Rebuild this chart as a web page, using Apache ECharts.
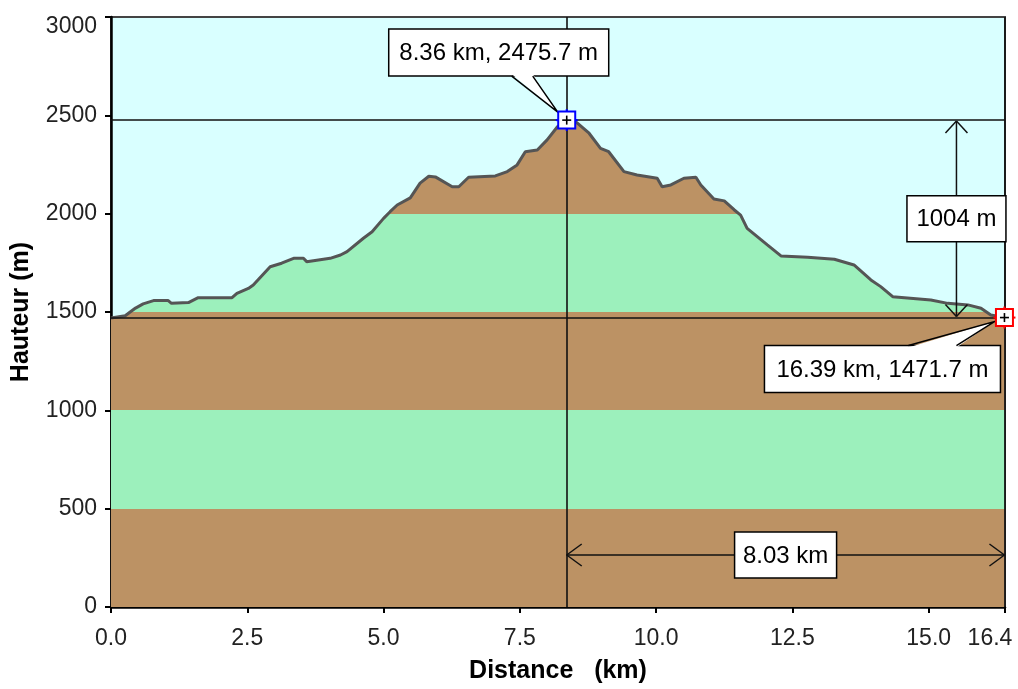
<!DOCTYPE html>
<html><head><meta charset="utf-8">
<script src="https://cdn.jsdelivr.net/npm/echarts@6/dist/echarts.min.js"></script>
<style>html,body{margin:0;padding:0;background:#fff}#c{width:1018px;height:689px}</style>
</head><body><div id="c"></div>
<script>
// ---- data ----
const distanceKm = [0.00,0.26,0.45,0.59,0.78,1.05,1.11,1.42,1.60,2.22,2.31,2.52,2.61,2.92,3.13,3.35,3.53,3.59,4.02,4.21,4.33,4.63,4.79,5.00,5.12,5.25,5.49,5.67,5.83,5.95,6.26,6.38,6.56,7.05,7.27,7.45,7.60,7.82,8.00,8.19,8.36,8.55,8.77,8.98,9.13,9.41,9.65,10.02,10.11,10.27,10.51,10.73,10.82,11.06,11.25,11.43,11.55,11.67,12.04,12.29,12.78,13.27,13.63,13.94,14.12,14.34,15.04,15.35,15.72,15.96,16.14,16.39];
const elevationM = [1470,1481,1520,1541,1558,1558,1544,1548,1573,1573,1595,1620,1637,1730,1748,1773,1773,1756,1773,1790,1807,1875,1908,1976,2010,2044,2080,2155,2190,2187,2137,2137,2185,2192,2214,2248,2315,2324,2375,2442,2475.7,2462,2409,2332,2315,2214,2197,2180,2137,2146,2180,2185,2146,2075,2065,2020,1993,1925,1841,1785,1778,1768,1739,1663,1629,1578,1561,1544,1536,1519,1485,1471.7];
const peakPoint = [8.36, 2475.7];
const endPoint = [16.39, 1471.7];
const bandEdges = [0, 500, 1000, 1500, 2000, 2500, 3000];
const bandColors = ['#BC9264', '#9CF0BC'];
const xAxisName = 'Distance   (km)';
const yAxisName = 'Hauteur (m)';
const xMax = 16.4, yMax = 3000;

const chart = echarts.init(document.getElementById('c'));
const profile = distanceKm.map((d, i) => [d, elevationM[i]]);
const pieces = bandEdges.slice(0, -1).map((lo, i) => {
  const p = { gte: lo, color: bandColors[i % 2] };
  if (i === bandEdges.length - 2) p.lte = bandEdges[i + 1]; else p.lt = bandEdges[i + 1];
  return p;
});
const LINE = '#111';
const TICKFONT = { fontFamily: 'Liberation Sans', fontSize: 23, color: '#222' };
chart.setOption({
  animation: false,
  grid: { left: 111, right: 13, top: 17, bottom: 82, containLabel: false, outerBoundsMode: 'none', show: true, backgroundColor: '#D9FFFF', borderColor: '#444', borderWidth: 2 },
  visualMap: { type: 'piecewise', show: false, dimension: 1, seriesIndex: 0, pieces: pieces },
  xAxis: {
    type: 'value', min: 0, max: xMax, interval: 2.5,
    name: xAxisName, nameLocation: 'middle', nameGap: 52,
    nameTextStyle: { fontFamily: 'Liberation Sans', fontSize: 25, fontWeight: 'bold', color: '#000' },
    axisLine: { lineStyle: { color: '#000', width: 2.5 } },
    axisTick: { show: true, length: 6, lineStyle: { color: '#000', width: 2 } },
    axisLabel: Object.assign({ margin: 20, showMaxLabel: true, showMinLabel: true,
      formatter: v => Math.abs(v - xMax) < 1e-9 ? '{m|' + v.toFixed(1) + '}' : v.toFixed(1),
      rich: { m: Object.assign({ padding: [0, 30, 0, 0] }, TICKFONT) } }, TICKFONT),
    splitLine: { show: false }
  },
  yAxis: {
    type: 'value', min: 0, max: yMax, interval: 500,
    name: yAxisName, nameLocation: 'middle', nameGap: 77, nameRotate: 90,
    nameTextStyle: { fontFamily: 'Liberation Sans', fontSize: 25, fontWeight: 'bold', color: '#000' },
    axisLine: { show: true, lineStyle: { color: '#000', width: 2.5 } },
    axisTick: { show: true, length: 6, lineStyle: { color: '#000', width: 2 } },
    axisLabel: Object.assign({ margin: 14,
      formatter: v => v === yMax ? '{t|' + v + '}' : String(v),
      rich: { t: Object.assign({ padding: [20, 0, 0, 0] }, TICKFONT) } }, TICKFONT),
    splitLine: { show: false }
  },
  series: [{
    type: 'line', data: profile, showSymbol: false, symbol: 'none', smooth: false,
    lineStyle: { color: '#555', width: 3 },
    areaStyle: { opacity: 1 },
    markLine: {
      silent: true, symbol: ['none', 'none'], label: { show: false },
      lineStyle: { color: LINE, width: 1.6, type: 'solid' },
      data: [
        { yAxis: peakPoint[1] }, { xAxis: peakPoint[0] },
        { yAxis: endPoint[1] }, { xAxis: endPoint[0] }
      ]
    }
  }]
});

// ---- annotations positioned through the chart's scales ----
const P = chart.convertToPixel({ gridIndex: 0 }, peakPoint);
const E = chart.convertToPixel({ gridIndex: 0 }, endPoint);
const O = chart.convertToPixel({ gridIndex: 0 }, [0, 0]);
const FONT = '24px "Liberation Sans", Arial, sans-serif';
const Z = 60;
const els = [];
function line(x1, y1, x2, y2, color, w) {
  els.push({ type: 'line', z: Z, shape: { x1, y1, x2, y2 }, style: { stroke: color || LINE, lineWidth: w || 1.5 } });
}
function marker(pt, color) {
  const [x, y] = pt;
  line(x - 11, y, x + 11, y, color, 2);
  line(x, y - 11, x, y + 11, color, 2);
  els.push({ type: 'rect', z: Z + 1, shape: { x: x - 8.5, y: y - 8.5, width: 17, height: 17 }, style: { fill: '#fff', stroke: color, lineWidth: 2 } });
  els.push({ type: 'line', z: Z + 2, shape: { x1: x - 4.5, y1: y, x2: x + 4.5, y2: y }, style: { stroke: '#000', lineWidth: 1.6 } });
  els.push({ type: 'line', z: Z + 2, shape: { x1: x, y1: y - 4.5, x2: x, y2: y + 4.5 }, style: { stroke: '#000', lineWidth: 1.6 } });
}
function callout(pt, box, b1, b2, tip, text) {
  const [x, y] = pt;
  els.push({ type: 'rect', z: Z, shape: { x: x + box.x, y: y + box.y, width: box.w, height: box.h }, style: { fill: '#fff', stroke: '#000', lineWidth: 1.5 } });
  const inward = b1[1] === box.y ? 2 : -2;
  els.push({ type: 'polygon', z: Z + 1, shape: { points: [[x + b1[0], y + b1[1] + inward], [x + b2[0], y + b2[1] + inward], [x + tip[0], y + tip[1]]] }, style: { fill: '#fff', stroke: null } });
  els.push({ type: 'polyline', z: Z + 1, shape: { points: [[x + b1[0], y + b1[1]], [x + tip[0], y + tip[1]], [x + b2[0], y + b2[1]]] }, style: { fill: null, stroke: '#000', lineWidth: 1.5 } });
  els.push({ type: 'text', z: Z + 2, style: { text, x: x + box.x + box.w / 2, y: y + box.y + box.h / 2 + 1, font: FONT, fill: '#000', align: 'center', verticalAlign: 'middle' } });
}
function labelBox(cx, cy, w, h, text) {
  els.push({ type: 'rect', z: Z, shape: { x: cx - w / 2, y: cy - h / 2, width: w, height: h }, style: { fill: '#fff', stroke: '#000', lineWidth: 1.5 } });
  els.push({ type: 'text', z: Z + 1, style: { text, x: cx, y: cy + 1, font: FONT, fill: '#000', align: 'center', verticalAlign: 'middle' } });
}

// vertical dimension (height difference)
const vx = E[0] - 48;
line(vx, P[1] + 1, vx, E[1] - 1);
line(vx, P[1] + 1, vx - 11, P[1] + 13); line(vx, P[1] + 1, vx + 11, P[1] + 13);
line(vx, E[1] - 1, vx - 11, E[1] - 13); line(vx, E[1] - 1, vx + 11, E[1] - 13);
const dh = Math.round(peakPoint[1] - endPoint[1]);
labelBox(vx, (P[1] + E[1]) / 2, 99, 46, dh + ' m');

// horizontal dimension (distance difference)
const hy = O[1] - 52;
line(P[0], hy, E[0], hy);
line(P[0], hy, P[0] + 15, hy - 11); line(P[0], hy, P[0] + 15, hy + 11);
line(E[0], hy, E[0] - 15, hy - 11); line(E[0], hy, E[0] - 15, hy + 11);
const dd = (endPoint[0] - peakPoint[0]).toFixed(2);
labelBox((P[0] + E[0]) / 2, hy, 102, 46, dd + ' km');

callout(P, { x: -178, y: -91, w: 220, h: 47 }, [-55, -44], [-34, -44], [-9, -8],
  peakPoint[0].toFixed(2) + ' km, ' + peakPoint[1].toFixed(1) + ' m');
callout(E, { x: -240, y: 28, w: 236, h: 47 }, [-96, 28], [-48, 28], [-10, 4],
  endPoint[0].toFixed(2) + ' km, ' + endPoint[1].toFixed(1) + ' m');

marker(P, '#0000FF');
marker(E, '#FF0000');

chart.setOption({ graphic: { elements: els } });
</script>
</body></html>
